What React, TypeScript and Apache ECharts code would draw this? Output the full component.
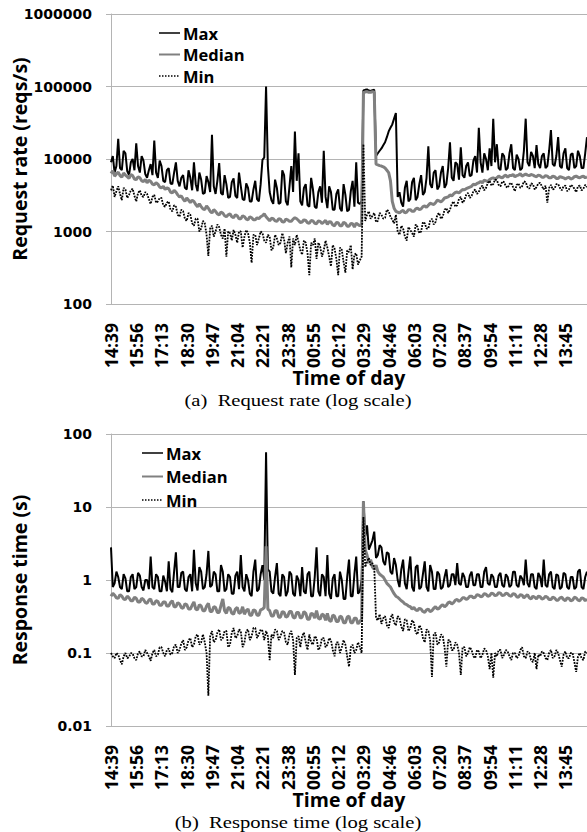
import React, { useEffect, useRef } from 'react';
import * as echarts from 'echarts';

// Sampling: one value every 5.5 minutes, starting at 14:39
const SAMPLE_STEP_MIN = 5.5;
const TICK_STEP_MIN = 77;
const X_MAX_MIN = 1452;
const TICK_LABELS = ['14:39', '15:56', '17:13', '18:30', '19:47', '21:04', '22:21', '23:38', '00:55', '02:12', '03:29', '04:46', '06:03', '07:20', '08:37', '09:54', '11:11', '12:28', '13:45'];
const SERIES_NAMES = ['Max', 'Median', 'Min'];

// (a) Request rate (reqs/s)
const RATE_MAX = [
  9000, 11000, 6500, 8000, 19000, 7500, 7000, 13000, 12000, 6800, 6000, 9000, 10000, 7000, 16500, 8000, 6500, 11000, 9500, 6200,
  5500, 7000, 8500, 6000, 18000, 6500, 5500, 9500, 8000, 5000, 4800, 7000, 7500, 4600, 4500, 6500, 9000, 5000, 4200, 5500,
  6000, 4000, 3800, 7000, 5500, 3700, 9000, 4500, 3600, 6500, 5200, 3300, 3400, 5800, 4800, 3500, 21500, 4200, 3300, 5000,
  8800, 3400, 3200, 6000, 4500, 2900, 3000, 4800, 5400, 3100, 2900, 6500, 4200, 2800, 2700, 4600, 4000, 2600, 2600, 3800,
  5000, 2800, 2600, 4500, 9700, 10500, 100000, 8000, 3500, 2700, 2400, 5200, 4000, 2400, 2500, 7000, 6000, 2600, 2300, 4200,
  8000, 3500, 24000, 5000, 12000, 2600, 2300, 4000, 4500, 2300, 2200, 5500, 3800, 2200, 2100, 3500, 4200, 2500, 13000, 3000,
  2100, 4200, 3500, 2000, 2000, 3300, 3800, 2100, 1900, 4500, 3200, 1900, 2000, 3600, 5000, 2200, 9000, 2500, 2400, 2600,
  88000, 90000, 91000, 88000, 87000, 89000, 90000, 11000, 12000, 13000, 14000, 15500, 17000, 20000, 24000, 27000, 30000, 36000, 43000, 3000,
  3500, 2500, 2200, 4000, 5000, 2600, 2800, 4800, 5500, 2700, 3000, 4500, 6000, 3200, 3500, 5500, 15000, 4500, 4000, 6500,
  7000, 3800, 4200, 6500, 8000, 4000, 4500, 7500, 17000, 5500, 5000, 9000, 8500, 5200, 14500, 6000, 5500, 8000, 9000, 5800,
  6000, 9500, 11000, 6500, 27000, 9000, 6500, 12000, 10000, 7000, 14000, 8000, 36000, 9000, 16000, 7500, 7000, 12000, 11000, 7000,
  7500, 12000, 16000, 7500, 7000, 11500, 10000, 7000, 7500, 13000, 36000, 9000, 8000, 12500, 11000, 7500, 15500, 8500, 7500, 11000,
  12000, 7500, 8000, 13000, 25000, 8500, 8000, 11000, 20000, 8000, 7500, 12000, 14000, 7500, 7000, 11500, 12000, 7500, 8000, 13000,
  11000, 7500, 7500, 12000, 20000,
];
const RATE_MEDIAN = [
  6300, 6900, 5800, 6200, 6600, 5900, 5600, 6400, 6000, 5700, 5400, 6100, 5900, 5300, 5200, 5700, 5500, 5000, 4900, 5200,
  4700, 5100, 4900, 4500, 4400, 4700, 4500, 4100, 4000, 4200, 3800, 4000, 3900, 3500, 3400, 3700, 3500, 3200, 3000, 3100,
  2800, 2600, 2900, 2700, 2500, 2700, 2600, 2350, 2200, 2400, 2200, 2050, 2000, 2250, 2100, 1900, 1800, 2000, 1900, 1750,
  1700, 1850, 1800, 1650, 1600, 1700, 1750, 1600, 1550, 1700, 1650, 1500, 1500, 1650, 1600, 1480, 1450, 1600, 1550, 1450,
  1450, 1550, 1500, 1600, 1650, 1750, 1600, 1500, 1400, 1520, 1500, 1400, 1380, 1500, 1480, 1360, 1350, 1480, 1450, 1380,
  1380, 1480, 1550, 1500, 1420, 1330, 1350, 1450, 1420, 1320, 1300, 1420, 1400, 1300, 1280, 1400, 1380, 1290, 1350, 1420,
  1250, 1370, 1350, 1230, 1200, 1330, 1320, 1200, 1200, 1340, 1300, 1180, 1180, 1290, 1280, 1150, 1300, 1250, 1200, 1250,
  82000, 84000, 85000, 83000, 83000, 85000, 84000, 8500, 8300, 8100, 8000, 7800, 7500, 7000, 6500, 5000, 2600, 2100, 1900, 1850,
  1800, 1900, 1950, 1800, 1850, 2000, 2000, 1900, 1900, 2050, 2100, 2000, 2050, 2200, 2250, 2150, 2300, 2450, 2400, 2350,
  2500, 2700, 2650, 2550, 2700, 2900, 2950, 3000, 3200, 3100, 3300, 3450, 3500, 3400, 3600, 3800, 3750, 3900, 4000, 4100,
  4200, 4500, 4400, 4600, 4700, 4900, 4700, 5100, 5000, 4900, 5200, 5400, 5500, 5300, 5500, 5800, 5600, 5500, 5800, 6000,
  5600, 5900, 5900, 6100, 5700, 5900, 6000, 6300, 5800, 6000, 6200, 6000, 5900, 6100, 6000, 5800, 5700, 6000, 5900, 5600,
  5600, 5900, 5800, 5500, 5500, 5800, 5700, 5400, 5400, 5700, 5600, 5500, 5300, 5500, 5600, 5300, 5400, 5700, 5800, 5600,
  5500, 5700, 5800, 5500, 5700,
];
const RATE_MIN = [
  3700, 4300, 3000, 3600, 4200, 3300, 2700, 4000, 3800, 2900, 3200, 3700, 3900, 3100, 2600, 3400, 3700, 3100, 3000, 3500,
  3300, 2800, 2400, 3000, 3200, 2500, 2600, 2900, 2900, 2300, 2200, 2500, 2600, 2000, 1900, 2300, 2200, 1700, 1600, 2000,
  1900, 1500, 1400, 1800, 1700, 1300, 1200, 1500, 1500, 1000, 1100, 1400, 1300, 900, 460, 1100, 1200, 850, 1000, 1250,
  1150, 900, 800, 1100, 450, 1000, 950, 750, 1050, 900, 700, 1000, 1000, 600, 850, 1050, 950, 700, 370, 900,
  900, 650, 800, 1000, 950, 750, 700, 900, 850, 550, 600, 900, 800, 650, 700, 950, 780, 500, 700, 850,
  320, 800, 650, 900, 720, 550, 480, 750, 700, 500, 250, 700, 650, 800, 420, 700, 620, 450, 550, 750,
  600, 450, 330, 650, 580, 420, 250, 600, 560, 380, 270, 550, 520, 650, 300, 480, 500, 350, 400, 450,
  16000, 1400, 1700, 1900, 1500, 1650, 1800, 1350, 1400, 1800, 1700, 1500, 1550, 2000, 1900, 1600, 1450, 1300, 1700, 1000,
  900, 1200, 1100, 850, 750, 1150, 1050, 950, 850, 1250, 1150, 950, 1000, 1350, 1300, 1100, 1100, 1400, 1500, 1250,
  1350, 1700, 1800, 1500, 1600, 2000, 2100, 1800, 2000, 2400, 2600, 2200, 2300, 2800, 3000, 2500, 2700, 3200, 3400, 2900,
  3100, 3600, 3800, 3300, 3500, 4100, 4300, 3700, 4000, 4700, 5000, 4300, 4500, 5200, 5100, 4400, 4200, 4900, 4800, 4200,
  4000, 4500, 4700, 4100, 3600, 4400, 4600, 4000, 4200, 4900, 4800, 4100, 3900, 4600, 4500, 3800, 4100, 4600, 4700, 4200,
  3800, 4300, 2500, 4000, 4400, 3800, 3900, 4500, 4500, 4000, 3700, 4200, 4300, 3600, 3800, 4400, 4200, 3900, 3500, 4200,
  4300, 3700, 3900, 4400, 4100,
];

// (b) Response time (s)
const RESP_MAX = [
  2.8, 0.8, 0.9, 1.3, 1.1, 0.8, 0.75, 1.2, 1.05, 0.7, 0.7, 1.1, 1.2, 0.75, 0.8, 1.25, 1.15, 0.8, 0.72, 1.0,
  1.0, 0.75, 2.1, 0.8, 0.75, 1.2, 1.1, 0.7, 0.7, 1.15, 0.95, 0.7, 1.8, 0.75, 0.68, 1.3, 2.4, 0.8, 0.8, 1.25,
  1.3, 0.75, 0.7, 1.1, 1.2, 0.7, 2.6, 0.9, 0.72, 1.5, 1.3, 0.75, 0.8, 1.2, 2.5, 0.8, 0.85, 1.3, 1.2, 0.7,
  0.7, 1.6, 1.3, 0.7, 0.75, 1.2, 1.1, 0.65, 0.65, 1.15, 1.3, 0.75, 2.2, 0.8, 0.7, 1.2, 1.0, 0.65, 0.6, 1.3,
  1.9, 0.7, 0.75, 1.2, 1.6, 1.0, 56, 1.4, 1.3, 0.7, 0.65, 1.1, 1.7, 0.65, 0.6, 1.2, 1.1, 0.6, 0.7, 1.3,
  1.2, 0.65, 0.6, 1.15, 1.0, 0.6, 1.5, 0.7, 0.65, 1.2, 1.3, 0.6, 0.6, 1.1, 2.8, 0.7, 0.6, 1.2, 1.1, 0.6,
  2.2, 0.65, 0.55, 1.05, 1.2, 0.6, 0.6, 1.3, 1.0, 0.55, 0.55, 1.1, 1.9, 0.6, 0.6, 1.2, 2.1, 0.65, 0.7, 1.0,
  12, 4.0, 5.6, 2.6, 3.0, 3.5, 4.6, 2.0, 2.2, 3.0, 2.8, 1.8, 1.6, 2.4, 2.3, 1.3, 1.2, 2.0, 1.6, 1.0,
  0.8, 1.4, 1.9, 0.9, 0.75, 1.3, 2.1, 0.8, 0.7, 1.5, 1.6, 0.75, 0.8, 1.2, 1.8, 0.8, 0.7, 1.6, 1.3, 0.75,
  0.75, 1.3, 1.2, 0.75, 0.8, 1.1, 1.4, 0.8, 0.85, 1.2, 1.2, 0.85, 1.7, 0.9, 0.85, 1.25, 1.1, 0.8, 0.8, 1.15,
  1.3, 0.85, 0.85, 1.2, 1.2, 0.8, 0.8, 1.3, 1.5, 0.9, 0.85, 1.2, 1.1, 0.8, 0.8, 1.15, 1.25, 0.85, 0.8, 1.2,
  1.1, 0.8, 0.85, 1.3, 1.3, 0.85, 0.8, 1.15, 1.05, 0.85, 1.9, 0.9, 0.8, 1.2, 1.2, 0.8, 0.75, 1.25, 1.1, 0.8,
  1.9, 0.85, 0.8, 1.2, 1.3, 0.8, 0.75, 1.2, 1.15, 0.75, 0.8, 1.25, 1.2, 0.8, 0.75, 1.1, 1.1, 0.75, 0.8, 1.3,
  1.4, 0.8, 0.75, 1.1, 1.3,
];
const RESP_MEDIAN = [
  0.6, 0.66, 0.62, 0.57, 0.56, 0.63, 0.6, 0.55, 0.54, 0.6, 0.57, 0.52, 0.52, 0.58, 0.56, 0.5, 0.5, 0.56, 0.54, 0.49,
  0.48, 0.53, 0.55, 0.47, 0.47, 0.52, 0.51, 0.45, 0.45, 0.5, 0.5, 0.44, 0.44, 0.49, 0.52, 0.43, 0.43, 0.49, 0.47, 0.42,
  0.41, 0.47, 0.46, 0.4, 0.4, 0.45, 0.5, 0.4, 0.39, 0.46, 0.44, 0.38, 0.38, 0.44, 0.48, 0.37, 0.37, 0.43, 0.42, 0.36,
  0.36, 0.45, 0.55, 0.38, 0.35, 0.42, 0.41, 0.35, 0.34, 0.4, 0.42, 0.35, 0.36, 0.43, 0.34, 0.38, 0.4, 0.33, 0.33, 0.39,
  0.38, 0.33, 0.33, 0.39, 0.4, 0.42, 2.9, 0.4, 0.38, 0.32, 0.32, 0.38, 0.38, 0.31, 0.31, 0.37, 0.36, 0.31, 0.32, 0.37,
  0.37, 0.31, 0.3, 0.36, 0.36, 0.3, 0.31, 0.37, 0.35, 0.29, 0.29, 0.35, 0.34, 0.3, 0.38, 0.3, 0.29, 0.34, 0.33, 0.28,
  0.35, 0.28, 0.27, 0.33, 0.32, 0.27, 0.27, 0.32, 0.31, 0.26, 0.26, 0.31, 0.32, 0.26, 0.26, 0.3, 0.3, 0.25, 0.27, 0.29,
  12, 2.6, 2.2, 1.7, 1.9, 1.5, 1.4, 1.6, 1.3, 1.2, 1.15, 1.1, 1.0, 0.9, 0.85, 0.8, 0.72, 0.65, 0.6, 0.58,
  0.55, 0.52, 0.5, 0.47, 0.46, 0.44, 0.43, 0.4, 0.42, 0.39, 0.38, 0.41, 0.4, 0.37, 0.36, 0.39, 0.4, 0.37, 0.38, 0.41,
  0.43, 0.4, 0.41, 0.44, 0.46, 0.43, 0.45, 0.49, 0.5, 0.47, 0.49, 0.53, 0.54, 0.51, 0.53, 0.57, 0.57, 0.54, 0.56, 0.6,
  0.6, 0.57, 0.58, 0.63, 0.62, 0.59, 0.6, 0.65, 0.64, 0.6, 0.61, 0.66, 0.65, 0.61, 0.62, 0.67, 0.66, 0.61, 0.62, 0.66,
  0.65, 0.61, 0.6, 0.65, 0.64, 0.59, 0.58, 0.63, 0.62, 0.57, 0.6, 0.63, 0.57, 0.55, 0.6, 0.58, 0.55, 0.6, 0.59, 0.55,
  0.56, 0.6, 0.58, 0.54, 0.54, 0.58, 0.57, 0.53, 0.53, 0.57, 0.58, 0.54, 0.52, 0.57, 0.56, 0.52, 0.53, 0.58, 0.57, 0.53,
  0.52, 0.57, 0.56, 0.52, 0.55,
];
const RESP_MIN = [
  0.1, 0.09, 0.085, 0.1, 0.095, 0.08, 0.07, 0.09, 0.1, 0.085, 0.088, 0.1, 0.098, 0.085, 0.08, 0.1, 0.105, 0.09, 0.09, 0.11,
  0.1, 0.09, 0.078, 0.1, 0.11, 0.09, 0.095, 0.12, 0.12, 0.1, 0.09, 0.11, 0.115, 0.095, 0.1, 0.125, 0.13, 0.1, 0.11, 0.135,
  0.15, 0.11, 0.12, 0.15, 0.16, 0.12, 0.13, 0.17, 0.18, 0.13, 0.14, 0.18, 0.14, 0.1, 0.026, 0.17, 0.2, 0.14, 0.15, 0.19,
  0.21, 0.15, 0.16, 0.2, 0.2, 0.12, 0.13, 0.19, 0.22, 0.16, 0.17, 0.21, 0.2, 0.12, 0.14, 0.2, 0.21, 0.15, 0.17, 0.22,
  0.22, 0.16, 0.18, 0.21, 0.2, 0.15, 0.2, 0.17, 0.08, 0.18, 0.16, 0.21, 0.2, 0.15, 0.17, 0.2, 0.19, 0.14, 0.13, 0.18,
  0.2, 0.15, 0.05, 0.16, 0.17, 0.12, 0.17, 0.19, 0.14, 0.11, 0.18, 0.14, 0.13, 0.17, 0.16, 0.11, 0.12, 0.16, 0.16, 0.12,
  0.13, 0.16, 0.15, 0.11, 0.09, 0.14, 0.14, 0.1, 0.12, 0.15, 0.13, 0.09, 0.065, 0.12, 0.13, 0.1, 0.11, 0.14, 0.12, 0.1,
  7.3, 1.5, 1.8, 2.0, 1.6, 1.7, 1.5, 0.3, 0.28, 0.34, 0.25, 0.3, 0.32, 0.24, 0.22, 0.3, 0.34, 0.26, 0.24, 0.32,
  0.3, 0.23, 0.2, 0.29, 0.28, 0.2, 0.22, 0.28, 0.26, 0.19, 0.18, 0.24, 0.22, 0.16, 0.14, 0.21, 0.2, 0.15, 0.047, 0.18,
  0.19, 0.13, 0.14, 0.18, 0.17, 0.12, 0.065, 0.15, 0.15, 0.11, 0.11, 0.14, 0.13, 0.1, 0.05, 0.12, 0.12, 0.09, 0.1, 0.12,
  0.11, 0.09, 0.085, 0.11, 0.105, 0.085, 0.095, 0.115, 0.11, 0.09, 0.06, 0.1, 0.046, 0.1, 0.09, 0.11, 0.11, 0.085, 0.095, 0.11,
  0.105, 0.09, 0.08, 0.1, 0.1, 0.085, 0.09, 0.11, 0.12, 0.09, 0.085, 0.105, 0.1, 0.08, 0.075, 0.1, 0.06, 0.095, 0.09, 0.105,
  0.1, 0.085, 0.08, 0.1, 0.11, 0.085, 0.09, 0.11, 0.1, 0.08, 0.065, 0.095, 0.105, 0.085, 0.085, 0.1, 0.1, 0.075, 0.055, 0.09,
  0.1, 0.085, 0.08, 0.105, 0.1,
];

const GRAY = '#b4b4b4';
const BOLD_FONT = 'Open Sans';
const NUM_FONT = 'DejaVu Sans';
const COLORS = ['#000000', '#808080', '#000000'];
const WIDTHS = [2, 3, 1.8];

const toPairs = (arr: number[]) => arr.map((v, i) => [i * SAMPLE_STEP_MIN, v]);

const fmtLog = (v: number) => String(Number(v.toPrecision(4)));

function xAxisFor(gridIndex: number) {
  return {
    type: 'value',
    gridIndex,
    min: 0,
    max: X_MAX_MIN,
    interval: TICK_STEP_MIN,
    name: 'Time of day',
    nameLocation: 'middle',
    nameGap: 63,
    nameMoveOverlap: false,
    nameTextStyle: { fontFamily: BOLD_FONT, fontWeight: 'bold', fontSize: 19.5, color: '#000' },
    axisLine: { show: true, lineStyle: { color: GRAY, width: 1 } },
    axisTick: { show: false },
    splitLine: { show: false },
    axisLabel: {
      rotate: 90,
      margin: 19,
      fontFamily: BOLD_FONT,
      fontWeight: 'bold',
      fontSize: 17.5,
      color: '#000',
      showMaxLabel: false,
      formatter: (v: number) => {
        const k = Math.round(v / TICK_STEP_MIN);
        if (Math.abs(v - k * TICK_STEP_MIN) > 1e-6) return '';
        return TICK_LABELS[k] ?? '';
      },
    },
  };
}

function yAxisFor(gridIndex: number, name: string, min: number, max: number) {
  return {
    type: 'log',
    logBase: 10,
    gridIndex,
    min,
    max,
    name,
    nameLocation: 'middle',
    nameGap: 82,
    nameMoveOverlap: false,
    nameTextStyle: { fontFamily: BOLD_FONT, fontWeight: 'bold', fontSize: 19.5, color: '#000' },
    axisLine: { show: true, lineStyle: { color: GRAY, width: 1 } },
    axisTick: { show: true, length: 5, lineStyle: { color: GRAY, width: 1 } },
    minorTick: { show: false },
    splitLine: { show: true, lineStyle: { color: GRAY, width: 1 } },
    axisLabel: {
      margin: 19,
      fontFamily: NUM_FONT,
      fontWeight: 'bold',
      fontSize: 14,
      color: '#000',
      formatter: (v: number) => fmtLog(v),
    },
  };
}

function seriesFor(idx: number, arrays: number[][]) {
  return arrays.map((arr, k) => ({
    type: 'line',
    name: SERIES_NAMES[k],
    xAxisIndex: idx,
    yAxisIndex: idx,
    showSymbol: false,
    symbol: 'none',
    silent: true,
    emphasis: { disabled: true },
    data: toPairs(arr),
    lineStyle: { color: COLORS[k], width: WIDTHS[k], type: k === 2 ? [1.8, 1.2] : 'solid' },
    itemStyle: { color: COLORS[k] },
  }));
}

// hand-drawn legend (line sample + label) for one panel
function legendGraphics(lineX: number, firstY: number, rowStep: number) {
  const out: any[] = [];
  SERIES_NAMES.forEach((name, k) => {
    const y = firstY + k * rowStep;
    out.push({
      type: 'line',
      silent: true,
      shape: { x1: lineX, y1: y, x2: lineX + 21, y2: y },
      style: { stroke: COLORS[k], lineWidth: k === 1 ? 2 : 1.5, lineDash: k === 2 ? [1.5, 1.5] : null },
    });
    out.push({
      type: 'text',
      silent: true,
      x: lineX + 24,
      y,
      style: { text: name, fontFamily: BOLD_FONT, fontWeight: 'bold', fontSize: 16.5, fill: '#000', align: 'left', verticalAlign: 'middle' },
    });
  });
  return out;
}

export default function App() {
  const ref = useRef<HTMLDivElement>(null);
  useEffect(() => {
    if (!ref.current) return;
    const chart = echarts.init(ref.current, null, { renderer: 'svg' });
    const option: any = {
      animation: false,
      backgroundColor: '#fff',
      grid: [
        { left: 111, top: 14, width: 476, height: 290, containLabel: false, outerBoundsMode: 'none' },
        { left: 111, top: 434, width: 476, height: 292, containLabel: false, outerBoundsMode: 'none' },
      ],
      xAxis: [xAxisFor(0), xAxisFor(1)],
      yAxis: [
        yAxisFor(0, 'Request rate (reqs/s)', 100, 1000000),
        yAxisFor(1, 'Response time (s)', 0.01, 100),
      ],
      series: [
        ...seriesFor(0, [RATE_MAX, RATE_MEDIAN, RATE_MIN]),
        ...seriesFor(1, [RESP_MAX, RESP_MEDIAN, RESP_MIN]),
      ],
      graphic: [
        ...legendGraphics(159, 33, 21.5),
        ...legendGraphics(142, 453, 23.5),
        {
          type: 'text', x: 298, y: 400, scaleX: 1.25,
          style: { text: '(a)  Request rate (log scale)', fontFamily: 'Liberation Serif', fontSize: 16.5, fill: '#000', align: 'center', verticalAlign: 'middle' },
        },
        {
          type: 'text', x: 298, y: 822, scaleX: 1.25,
          style: { text: '(b)  Response time (log scale)', fontFamily: 'Liberation Serif', fontSize: 16.5, fill: '#000', align: 'center', verticalAlign: 'middle' },
        },
      ],
    };
    chart.setOption(option);
    return () => chart.dispose();
  }, []);
  return <div ref={ref} style={{ position: 'absolute', left: 0, top: 0, width: 587, height: 832 }} />;
}
